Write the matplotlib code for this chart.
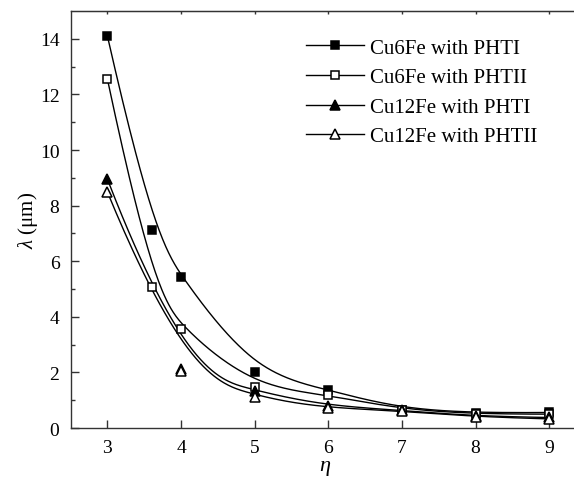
import numpy as np
import matplotlib
matplotlib.use("Agg")
import matplotlib.pyplot as plt

plt.rcParams['font.family'] = ['Liberation Serif', 'DejaVu Serif']
plt.rcParams['mathtext.fontset'] = 'custom'
plt.rcParams['mathtext.rm'] = 'Liberation Serif'
plt.rcParams['mathtext.it'] = 'Liberation Serif:italic'

# data
eta_6 = [3, 3.6, 4, 5, 6, 7, 8, 9]
cu6_pht1 = [14.1, 7.12, 5.42, 2.0, 1.38, 0.66, 0.54, 0.56]
cu6_pht2 = [12.55, 5.08, 3.58, 1.49, 1.2, 0.65, 0.5, 0.5]

eta_12 = [3, 4, 5, 6, 7, 8, 9]
cu12_pht1 = [8.95, 2.12, 1.32, 0.8, 0.64, 0.42, 0.38]
cu12_pht2 = [8.49, 2.06, 1.1, 0.72, 0.62, 0.4, 0.33]

labels = ['Cu6Fe with PHTI', 'Cu6Fe with PHTII', 'Cu12Fe with PHTI', 'Cu12Fe with PHTII']


def bspline(x, y, k=3, n=400):
    # clamped uniform B-spline, data points used as control points
    P = np.column_stack([x, y]).astype(float)
    m = len(P)
    k = min(k, m - 1)
    knots = np.concatenate([np.zeros(k), np.linspace(0, 1, m - k + 1), np.ones(k)])
    u = np.linspace(0, 1, n)
    N = np.zeros((n, len(knots) - 1))
    for i in range(len(knots) - 1):
        N[:, i] = (knots[i] <= u) & (u < knots[i + 1])
    N[-1, m - 1] = 1.0
    for d in range(1, k + 1):
        Nn = np.zeros((n, len(knots) - 1 - d))
        for i in range(len(knots) - 1 - d):
            a = knots[i + d] - knots[i]
            b = knots[i + d + 1] - knots[i + 1]
            t1 = (u - knots[i]) / a * N[:, i] if a > 0 else 0
            t2 = (knots[i + d + 1] - u) / b * N[:, i + 1] if b > 0 else 0
            Nn[:, i] = t1 + t2
        N = Nn
    C = N @ P
    return C[:, 0], C[:, 1]


fig = plt.figure(figsize=(5.74, 4.81), dpi=100)
ax = fig.add_axes([0.123, 0.108, 0.885, 0.867])

series = [
    (eta_6, cu6_pht1, 's', 'black', 6),
    (eta_6, cu6_pht2, 's', 'white', 6),
    (eta_12, cu12_pht1, '^', 'black', 7),
    (eta_12, cu12_pht2, '^', 'white', 7),
]

for (x, y, m, fc, ms), lab in zip(series, labels):
    xs, ys = bspline(x, y)
    ax.plot(xs, ys, color='black', lw=1.0, zorder=2)
    ax.plot(x, y, linestyle='none', marker=m, ms=ms, mfc=fc, mec='black',
            mew=1.1, zorder=3)
    # legend handle
    ax.plot([], [], color='black', lw=1.0, marker=m, ms=ms, mfc=fc,
            mec='black', mew=1.1, label=lab)

ax.set_xlim(2.5, 9.4)
ax.set_ylim(0, 15)
ax.set_xticks([3, 4, 5, 6, 7, 8, 9])
ax.set_yticks([0, 2, 4, 6, 8, 10, 12, 14])
ax.set_yticks(np.arange(1, 15, 2), minor=True)

ax.tick_params(axis='both', which='major', direction='in', length=6,
               width=1, labelsize=14, color='#333333')
ax.tick_params(axis='y', which='minor', direction='in', length=3, width=1,
               color='#333333')
ax.tick_params(axis='x', which='major', pad=8)
ax.tick_params(axis='y', which='major', pad=8)

top = ax.secondary_xaxis('top')
top.set_xticks([3, 4, 5, 6, 7, 8, 9])
top.tick_params(direction='in', length=2, width=1, labeltop=False,
                color='#333333')
top.spines['top'].set_color('#333333')

for s in ax.spines.values():
    s.set_color('#333333')
    s.set_linewidth(1.0)

ax.set_xlabel(r'$\eta$', fontsize=16, labelpad=1)
ax.set_ylabel(r'$\lambda$ (μm)', fontsize=15, labelpad=0)

ax.legend(loc='upper left', bbox_to_anchor=(0.447, 0.955), frameon=False,
          fontsize=15, handlelength=2.8, handletextpad=0.25,
          labelspacing=0.48, borderaxespad=0)

fig.savefig('out.png', dpi=100)
